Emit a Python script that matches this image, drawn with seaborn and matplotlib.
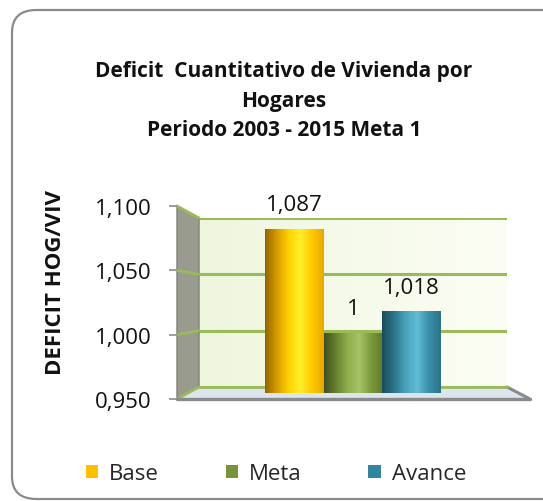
import numpy as np
import pandas as pd
import matplotlib
matplotlib.use("Agg")
import matplotlib.pyplot as plt
import seaborn as sns
from matplotlib.patches import Polygon, Patch, FancyBboxPatch
from matplotlib.lines import Line2D
from matplotlib.colors import LinearSegmentedColormap
from matplotlib.ticker import FuncFormatter, FixedLocator

# ---------------- data ----------------
categories = ["Base", "Meta", "Avance"]
values = [1.087, 1.000, 1.018]
y_ticks = [0.950, 1.000, 1.050, 1.100]
title_lines = ["Deficit  Cuantitativo de Vivienda por", "Hogares", "Periodo 2003 - 2015 Meta 1"]
y_label = "DEFICIT HOG/VIV"

# ---------------- style ----------------
colors = {"Base": "#ffc000", "Meta": "#77933c", "Avance": "#31859c"}
gradients = {
    "Base": ["#8f6500", "#d89c00", "#ffd000", "#fff02a", "#ffc800", "#e8a800"],
    "Meta": ["#3f5020", "#66802f", "#8fae4c", "#a6c366", "#7a9a3c", "#5e7a2c"],
    "Avance": ["#1b4c5c", "#2a7388", "#4aa3bd", "#62bcd4", "#3a8fa8", "#2a7288"],
}
sns.set_theme(style="white")
plt.rcParams["font.family"] = ["Open Sans", "DejaVu Sans"]

W, H = 543, 502
fig = plt.figure(figsize=(W / 100, H / 100), dpi=100)
fig.patch.set_facecolor("white")


def rect(x0, y0, x1, y1):
    """pixel box (top-left origin) -> figure fraction [l, b, w, h]"""
    return [x0 / W, 1 - y1 / H, (x1 - x0) / W, (y1 - y0) / H]


ymin, ymax = y_ticks[0], y_ticks[-1]

# outer rounded border
border = FancyBboxPatch((12 / W, 1 - 500 / H), 560 / W, 489 / H,
                        boxstyle="round,pad=0,rounding_size=0.045",
                        transform=fig.transFigure, facecolor="none",
                        edgecolor="#8a8a8a", linewidth=1.6, zorder=-1)
fig.patches.append(border)

# back wall axes
ax_back = fig.add_axes(rect(199, 219, 507, 388), zorder=1)
ax_back.set_ylim(ymin, ymax)
ax_back.set_xlim(0, 1)
grad = np.linspace(0, 1, 256).reshape(1, -1)
wall_cmap = LinearSegmentedColormap.from_list("wall", ["#eef5dd", "#f6fae9", "#fbfdf4"])
ax_back.imshow(grad, extent=(0, 1, ymin, ymax), aspect="auto", cmap=wall_cmap, zorder=0)
for t in y_ticks:
    ax_back.axhline(t, color="#9bbb59", lw=2.2, zorder=1)
ax_back.set_xticks([])
ax_back.set_yticks([])
for s in ax_back.spines.values():
    s.set_visible(False)

# front axes (tick labels)
fx0, fy0, fx1, fy1 = 177, 207, 530, 400
ax_front = fig.add_axes(rect(fx0, fy0, fx1, fy1), zorder=3)
ax_front.set_ylim(ymin, ymax)
ax_front.set_xlim(0, 1)
ax_front.patch.set_visible(False)
ax_front.yaxis.set_major_locator(FixedLocator(y_ticks))
ax_front.yaxis.set_major_formatter(FuncFormatter(lambda v, p: f"{v:.3f}".replace(".", ",")))
ax_front.tick_params(axis="y", left=True, length=5.5, width=1.2, color="#8c8c8c",
                     labelsize=16, pad=13, labelcolor="#111111")
ax_front.set_xticks([])
for s in ax_front.spines.values():
    s.set_visible(False)
ax_front.set_ylabel(y_label, fontsize=16, fontweight="bold", color="#111111")
ax_front.yaxis.set_label_coords((66 - fx0) / (fx1 - fx0), (fy1 - 283) / (fy1 - fy0))

fig.canvas.draw()


def px(ax, x, y):
    return fig.transFigure.inverted().transform(ax.transData.transform((x, y)))


# left side wall
fl_t, fl_b = px(ax_front, 0, ymax), px(ax_front, 0, ymin)
bl_t, bl_b = px(ax_back, 0, ymax), px(ax_back, 0, ymin)
fig.patches.append(Polygon([fl_t, bl_t, bl_b, fl_b], closed=True, transform=fig.transFigure,
                           facecolor="#989b8e", edgecolor="#7d7f75", lw=1.0, zorder=1.5))
for t in y_ticks:
    a, b = px(ax_front, 0, t), px(ax_back, 0, t)
    fig.lines.append(Line2D([a[0], b[0]], [a[1], b[1]], transform=fig.transFigure,
                            color="#9bbb59", lw=2.0, zorder=1.7))

# floor
fr_b, br_b = px(ax_front, 1, ymin), px(ax_back, 1, ymin)
fig.patches.append(Polygon([fl_b, fr_b, br_b, bl_b], closed=True, transform=fig.transFigure,
                           facecolor="#dce4ee", edgecolor="none", zorder=1.5))
fig.lines.append(Line2D([fl_b[0], fr_b[0]], [fl_b[1], fr_b[1]], transform=fig.transFigure,
                        color="#8a8a8a", lw=2.4, zorder=1.7))
fig.lines.append(Line2D([fr_b[0], br_b[0]], [fr_b[1], br_b[1]], transform=fig.transFigure,
                        color="#8a8a8a", lw=2.2, zorder=1.7))
fig.lines.append(Line2D([bl_b[0], br_b[0]], [bl_b[1], br_b[1]], transform=fig.transFigure,
                        color="#9bbb59", lw=2.0, zorder=1.7))

# bars axes (mid depth)
ax = fig.add_axes(rect(188, 214, 518, 394), zorder=4)
ax.patch.set_visible(False)
df = pd.DataFrame({"cat": categories, "val": values})
sns.barplot(data=df, x="cat", y="val", hue="cat", order=categories, hue_order=categories,
            palette=colors, width=1.0, legend=False, ax=ax, zorder=3, edgecolor="none")
ax.set_ylim(ymin, ymax)
half = (518 - 188) / 58.5 / 2
ax.set_xlim(1 - half, 1 + half)
ax.set_xticks([])
ax.set_yticks([])
ax.set_xlabel("")
ax.set_ylabel("")
for s in ax.spines.values():
    s.set_visible(False)

for patch, cat in zip(ax.patches, categories):
    x0, w = patch.get_x(), patch.get_width()
    cmap = LinearSegmentedColormap.from_list(cat, gradients[cat])
    im = ax.imshow(grad, extent=(x0, x0 + w, ymin, patch.get_height()), aspect="auto",
                   cmap=cmap, zorder=4)
    im.set_clip_path(patch)

for cont in ax.containers:
    ax.bar_label(cont, labels=[f"{v:g}".replace(".", ",") for v in cont.datavalues],
                 padding=10, fontsize=16, color="#111111", zorder=6)
ax.set_xlim(1 - half, 1 + half)
ax.set_ylim(ymin, ymax)

# title
fig.text(284 / W, 1 - 101 / H, "\n".join(title_lines), ha="center", va="center",
         fontsize=15, fontweight="bold", color="#111111", linespacing=1.55)

# legend
handles = [Patch(facecolor=colors[c], edgecolor="none", label=c) for c in categories]
fig.legend(handles=handles, loc="center", bbox_to_anchor=(276 / W, 1 - 475 / H), ncol=3,
           frameon=False, fontsize=16, handlelength=0.55, handleheight=0.55,
           handletextpad=0.5, columnspacing=3.0, borderpad=0)

fig.savefig("out.png", dpi=100, facecolor="white")
